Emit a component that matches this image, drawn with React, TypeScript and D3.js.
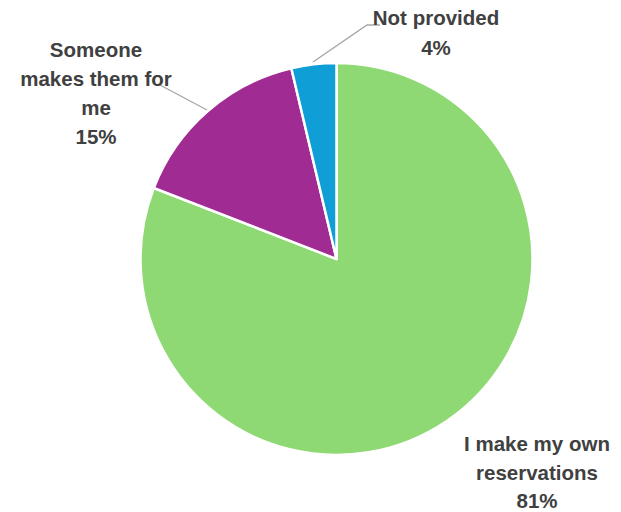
import React from "react";
import * as d3 from "d3";

const categories = ["I make my own reservations", "Someone makes them for me", "Not provided"];
const values = [80.9, 15.4, 3.7];
const percentLabels = ["81%", "15%", "4%"];
const labelLines = [["I make my own", "reservations", "81%"], ["Someone", "makes them for", "me", "15%"], ["Not provided", "4%"]];
const colors = ["#8ED973", "#A02B93", "#0F9ED5"];

const W = 621, H = 512;
const cx = 336.5, cy = 259, R = 196;

export default function App() {
  const pie = d3.pie<number>().sort(null).value((d) => d)(values);
  const arc = d3.arc<d3.PieArcDatum<number>>().innerRadius(0).outerRadius(R);
  const labelPos: [number, number][] = [[537, 444], [96, 50], [436, 18]];
  const spacing = [28.5, 29, 30];
  const leaders: [number, number][][] = [[], [[160, 85], [207, 110]], [[380, 25], [367, 25], [313, 62]]];
  const font = "'Liberation Sans Narrow', 'Arial Narrow', 'Liberation Sans', sans-serif";
  return (
    <svg width={W} height={H} style={{ position: "absolute", left: 0, top: 0, background: "#fff" }}>
      <g transform={`translate(${cx},${cy})`}>
        {pie.map((p, i) => (
          <path key={categories[i]} d={arc(p) || ""} fill={colors[i]} stroke="#fff" strokeWidth={2.5} strokeLinejoin="round" />
        ))}
      </g>
      {leaders.map((pts, i) =>
        pts.length ? (
          <polyline key={i} points={pts.map((p) => p.join(",")).join(" ")} fill="none" stroke="#A6A6A6" strokeWidth={1.3} />
        ) : null
      )}
      {labelLines.map((lines, i) => (
        <text key={i} textAnchor="middle" fontFamily={font} fontWeight="bold" fontSize={20.5} fill="#404040">
          {lines.map((l, j) => (
            <tspan key={j} x={labelPos[i][0]} y={labelPos[i][1] + j * spacing[i]} dy="0.35em">{l}</tspan>
          ))}
        </text>
      ))}
    </svg>
  );
}
